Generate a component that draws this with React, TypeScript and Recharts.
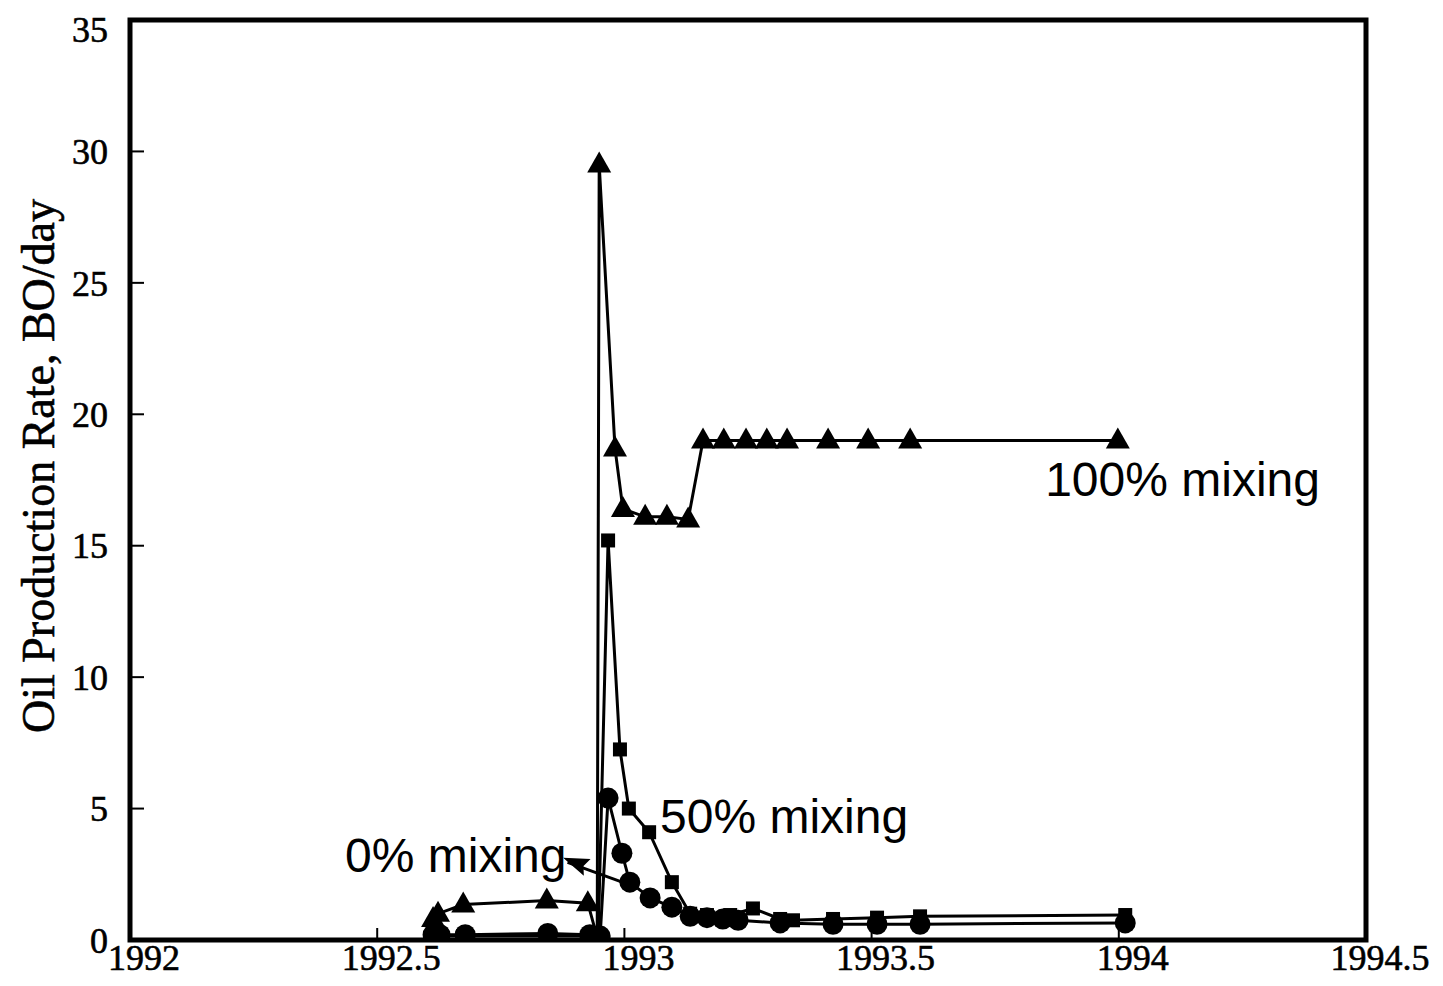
import { LineChart, Line, XAxis, YAxis, ReferenceArea, ReferenceLine, ReferenceDot } from "recharts";

// 100% mixing (triangles)
const years100 = [1992.613, 1992.623, 1992.674, 1992.843, 1992.926, 1992.945, 1992.949, 1992.981, 1992.997, 1993.042, 1993.086, 1993.129, 1993.159, 1993.201, 1993.246, 1993.288, 1993.329, 1993.412, 1993.493, 1993.578, 1993.998];
const rate100 = [0.8, 1.0, 1.35, 1.5, 1.4, 0.1, 29.5, 18.7, 16.4, 16.1, 16.1, 16.0, 19.0, 19.0, 19.0, 19.0, 19.0, 19.0, 19.0, 19.0, 19.0];

// 50% mixing (squares)
const years50 = [1992.613, 1992.674, 1992.843, 1992.926, 1992.947, 1992.967, 1992.991, 1993.009, 1993.05, 1993.096, 1993.133, 1993.167, 1993.214, 1993.26, 1993.315, 1993.341, 1993.422, 1993.511, 1993.598, 1994.013];
const rate50 = [0.15, 0.15, 0.15, 0.15, 0.1, 15.2, 7.25, 5.0, 4.1, 2.2, 1.0, 0.95, 0.95, 1.2, 0.8, 0.75, 0.8, 0.85, 0.9, 0.95];

// 0% mixing (circles)
const years0 = [1992.613, 1992.627, 1992.678, 1992.845, 1992.93, 1992.951, 1992.967, 1992.995, 1993.011, 1993.052, 1993.096, 1993.133, 1993.167, 1993.199, 1993.23, 1993.315, 1993.422, 1993.511, 1993.598, 1994.013];
const rate0 = [0.2, 0.2, 0.2, 0.25, 0.2, 0.15, 5.4, 3.3, 2.2, 1.6, 1.25, 0.9, 0.85, 0.8, 0.75, 0.65, 0.6, 0.6, 0.6, 0.65];

const xTicks = [1992, 1992.5, 1993, 1993.5, 1994, 1994.5];
const yTicks = [0, 5, 10, 15, 20, 25, 30, 35];

const toRows = (xs: number[], ys: number[]) => xs.map((year, i) => ({ year, rate: ys[i] }));
const data100 = toRows(years100, rate100);
const data50 = toRows(years50, rate50);
const data0 = toRows(years0, rate0);

const triangle = (p: any) => {
  const { cx, cy, index } = p;
  if (cx == null || cy == null) return <g key={`t${index}`} />;
  return <path key={`t${index}`} d={`M${cx},${cy - 13} L${cx + 12},${cy + 8} L${cx - 12},${cy + 8} Z`} fill="#000" />;
};

const square = (p: any) => {
  const { cx, cy, index } = p;
  if (cx == null || cy == null) return <g key={`s${index}`} />;
  return <rect key={`s${index}`} x={cx - 7} y={cy - 7} width={14} height={14} fill="#000" />;
};

const circle = (p: any) => {
  const { cx, cy, index } = p;
  if (cx == null || cy == null) return <g key={`c${index}`} />;
  return <circle key={`c${index}`} cx={cx} cy={cy} r={10.5} fill="#000" />;
};

const note = (text: string) => (p: any) => (
  <text x={p.cx} y={p.cy} fontFamily="'Liberation Sans', Arial, sans-serif" fontSize={48} fill="#000">
    {text}
  </text>
);

const arrowHead = (p: any) => (
  <path
    d="M0,0 L26,-9 L22,0 L26,9 Z"
    transform={`translate(${p.cx},${p.cy}) rotate(22)`}
    fill="#000"
  />
);

const tickFont = {
  fontFamily: "'Liberation Serif', 'Times New Roman', serif",
  fontSize: 36,
  fill: "#000",
  stroke: "#000",
  strokeWidth: 0.6,
};

export default function App() {
  return (
    <div style={{ background: "#fff" }}>
      <LineChart width={1435} height={970} margin={{ top: 12, right: 77, left: 0, bottom: 0 }}>
        <XAxis
          dataKey="year"
          type="number"
          domain={[1992, 1994.5]}
          ticks={xTicks}
          allowDataOverflow
          height={38}
          stroke="#000"
          strokeWidth={4}
          tickSize={-12}
          tickMargin={16}
          tickLine={{ stroke: "#000", strokeWidth: 2 }}
          tick={{ ...tickFont, dx: 14 }}
        />
        <YAxis
          dataKey="rate"
          type="number"
          domain={[0, 35]}
          ticks={yTicks}
          allowDataOverflow
          width={122}
          stroke="#000"
          strokeWidth={4}
          tickSize={-14}
          tickMargin={36}
          tickLine={{ stroke: "#000", strokeWidth: 2 }}
          tick={tickFont}
          label={{
            value: "Oil Production Rate, BO/day",
            content: () => (
              <text
                x={30}
                y={458}
                transform="rotate(-90 30 458)"
                textAnchor="middle"
                dominantBaseline="central"
                fontFamily="'Liberation Serif', 'Times New Roman', serif"
                fontSize={46}
                fill="#000"
                stroke="#000"
                strokeWidth={0.6}
              >
                Oil Production Rate, BO/day
              </text>
            ),
          }}
        />
        <ReferenceArea x1={1992} x2={1994.5} y1={0} y2={35} fill="none" stroke="#000" strokeWidth={5} ifOverflow="visible" />
        <Line data={data100} dataKey="rate" stroke="#000" strokeWidth={3} dot={triangle} isAnimationActive={false} />
        <Line data={data50} dataKey="rate" stroke="#000" strokeWidth={3} dot={square} isAnimationActive={false} />
        <Line data={data0} dataKey="rate" stroke="#000" strokeWidth={3} dot={circle} isAnimationActive={false} />
        <ReferenceLine segment={[{ x: 1993.011, y: 2.1 }, { x: 1992.885, y: 2.95 }]} stroke="#000" strokeWidth={3} />
        <ReferenceDot x={1992.876} y={3.13} r={0} shape={arrowHead} />
        <ReferenceDot x={1993.851} y={16.9} r={0} shape={note("100% mixing")} />
        <ReferenceDot x={1993.072} y={4.08} r={0} shape={note("50% mixing")} />
        <ReferenceDot x={1992.435} y={2.6} r={0} shape={note("0% mixing")} />
      </LineChart>
    </div>
  );
}
